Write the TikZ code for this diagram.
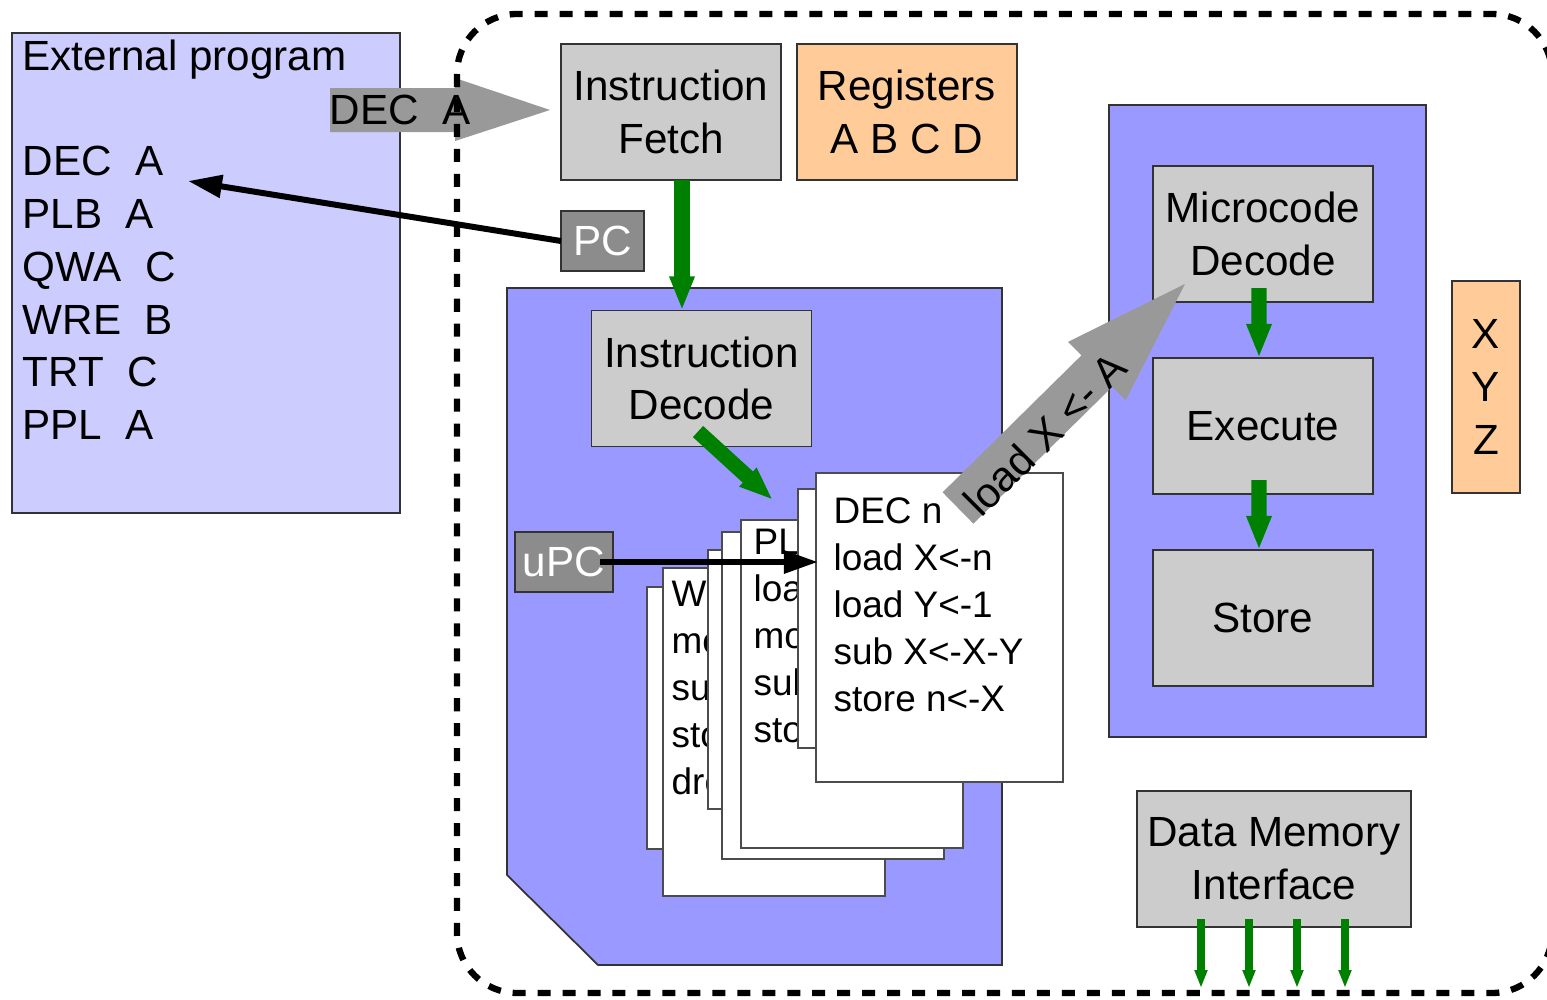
\documentclass[tikz,border=0pt]{standalone}
\usepackage{fontspec}
\setmainfont{Liberation Sans}
\usetikzlibrary{arrows.meta,calc}
\definecolor{lavender}{HTML}{CCCCFF}
\definecolor{cpublue}{HTML}{9999FF}
\definecolor{boxgray}{HTML}{CCCCCC}
\definecolor{peach}{HTML}{FFCC99}
\definecolor{regdark}{HTML}{8C8C8C}
\definecolor{arrowgray}{HTML}{999999}
\definecolor{busgreen}{HTML}{008000}

\tikzset{
  unit/.style={draw=black!80, line width=0.5pt, fill=boxgray, align=center, inner sep=2pt, outer sep=0pt, minimum width=2.2cm, minimum height=1.36cm},
  regbox/.style={unit, fill=peach},
  ptrbox/.style={draw=black!80, line width=0.5pt, fill=regdark, text=white, inner sep=0pt, outer sep=0pt, minimum height=0.6cm},
  pagebox/.style={draw=black!70, line width=0.5pt, fill=white, anchor=north west, minimum width=2.22cm, outer sep=0pt},
  pagetext/.style={anchor=north west, align=left, inner sep=0pt, font=\fontsize{10.5}{13.4}\selectfont},
  flow/.style={busgreen, line width=4.3pt, -{Triangle[length=0.34cm, width=0.23cm]}},
  bus/.style={busgreen, line width=2.3pt, -{Triangle[length=0.18cm, width=0.12cm]}},
  ptrarrow/.style={black, line width=1.7pt, -{Triangle[length=0.34cm, width=0.22cm]}},
  frameline/.style={line width=1.8pt, dash pattern=on 3.7pt off 3.4pt, rounded corners=0.6cm},
}

\begin{document}
\begin{tikzpicture}[x=0.01cm, y=-0.01cm, every node/.style={font=\fontsize{12}{15}\selectfont}]
\useasboundingbox (0,0) rectangle (1547,1000);

% program in memory
\node[draw=black!80, line width=0.5pt, fill=lavender, anchor=north west, outer sep=0pt, minimum width=3.88cm, minimum height=4.8cm] (extprog) at (12,33) {};
\node[anchor=north west, align=left, inner sep=0pt] (extlist) at (22,39) {External program\\[15pt]DEC\ \ A\\PLB\ \ A\\QWA\ \ C\\WRE\ \ B\\TRT\ \ C\\PPL\ \ A};
\coordinate (deca) at (188,181);

% fetched instruction
\fill[arrowgray] (330,88) -- (455,88) -- (455,78) -- (550,110) -- (455,141) -- (455,132) -- (330,132) -- cycle;
\draw[frameline] (457,14) rectangle (1552,993);
\node[anchor=west, inner sep=0pt] (fetched) at (329,110) {DEC\ \ A};

\node[unit] (fetch) at (671,112) {Instruction\\Fetch};
\node[regbox] (regs) at (907,112) {Registers\\A B C D};
\node[ptrbox, minimum width=0.83cm] (pc) at (602.5,241) {PC};
\draw[ptrarrow] (pc.west) -- (deca);

% decode stage
\filldraw[fill=cpublue, draw=black!80, line width=0.5pt] (507,288) -- (1002,288) -- (1002,965) -- (598,965) -- (507,875) -- cycle;
\node[unit] (idecode) at (701.5,378.5) {Instruction\\Decode};
\draw[flow] ([xshift=0.11cm]fetch.south) -- ([xshift=0.11cm]fetch.south |- idecode.north);

% microprograms
\node[pagebox, minimum height=2.62cm] (pg1) at (647,587) {};
\node[pagebox, minimum height=3.28cm] (pg2) at (663,568) {};
\node[pagetext] (pg2text) at ([shift={(8,12)}]pg2.north west) {W\\mov\\sub\\sto\\drop};
\node[pagebox, minimum height=2.59cm] (pg3) at (708,550) {};
\node[pagebox, minimum height=3.27cm] (pg4) at (722,532) {};
\node[pagebox, minimum height=3.28cm] (pg5) at (741,520) {};
\node[pagetext] (pg5text) at ([shift={(12,8)}]pg5.north west) {PL\\load\\mov\\sub\\sto};
\node[pagebox, minimum height=2.59cm] (pg6) at (798,489) {};
\node[pagebox, minimum width=2.47cm, minimum height=3.09cm] (pg7) at (816,473) {};
\node[pagetext] (pg7text) at ([shift={(17,24)}]pg7.north west) {DEC n\\load X<-n\\load Y<-1\\sub X<-X-Y\\store n<-X};

\draw[flow] ([shift={(-3.5,-15)}]idecode.south) -- ([shift={(-43,27)}]pg7.north west);
\node[ptrbox, minimum width=0.98cm] (upc) at (564,562) {uPC};
\draw[ptrarrow] ([xshift=0.36cm]upc.center) -- ([xshift=0.02cm]pg7.west |- upc.center);

% microcode engine
\node[draw=black!80, line width=0.5pt, fill=cpublue, anchor=north west, outer sep=0pt, minimum width=3.17cm, minimum height=6.32cm] (mpanel) at (1109,105) {};
\node[unit] (mdecode) at (1263,234) {Microcode\\Decode};
\node[unit] (execute) at (1263,426) {Execute};
\node[unit] (store) at (1263,618) {Store};
\draw[flow] ([shift={(-4,-14)}]mdecode.south) -- ([xshift=-0.04cm]execute.north);
\draw[flow] ([shift={(-4,-14)}]execute.south) -- ([xshift=-0.04cm]store.north);
\node[regbox, minimum width=0.68cm, minimum height=2.12cm] (xyz) at (1486,387) {X\\Y\\Z};

% issued micro-op
\fill[arrowgray] (942.6,492.3) -- (1081.4,355.4) -- (1068,341.9) -- (1185,284) -- (1125.6,400.3) -- (1112.2,386.8) -- (973.4,523.7) -- cycle;
\node[rotate=45, inner sep=0pt] (microop) at (1045,434) {load X <- A};

% memory side
\node[unit, minimum width=2.74cm] (dmem) at (1274,859) {Data Memory\\Interface};
\draw[bus] ([shift={(-73,-8)}]dmem.south) -- ([shift={(-73,61)}]dmem.south);
\draw[bus] ([shift={(-25,-8)}]dmem.south) -- ([shift={(-25,61)}]dmem.south);
\draw[bus] ([shift={(23,-8)}]dmem.south) -- ([shift={(23,61)}]dmem.south);
\draw[bus] ([shift={(71,-8)}]dmem.south) -- ([shift={(71,61)}]dmem.south);
\end{tikzpicture}
\end{document}
